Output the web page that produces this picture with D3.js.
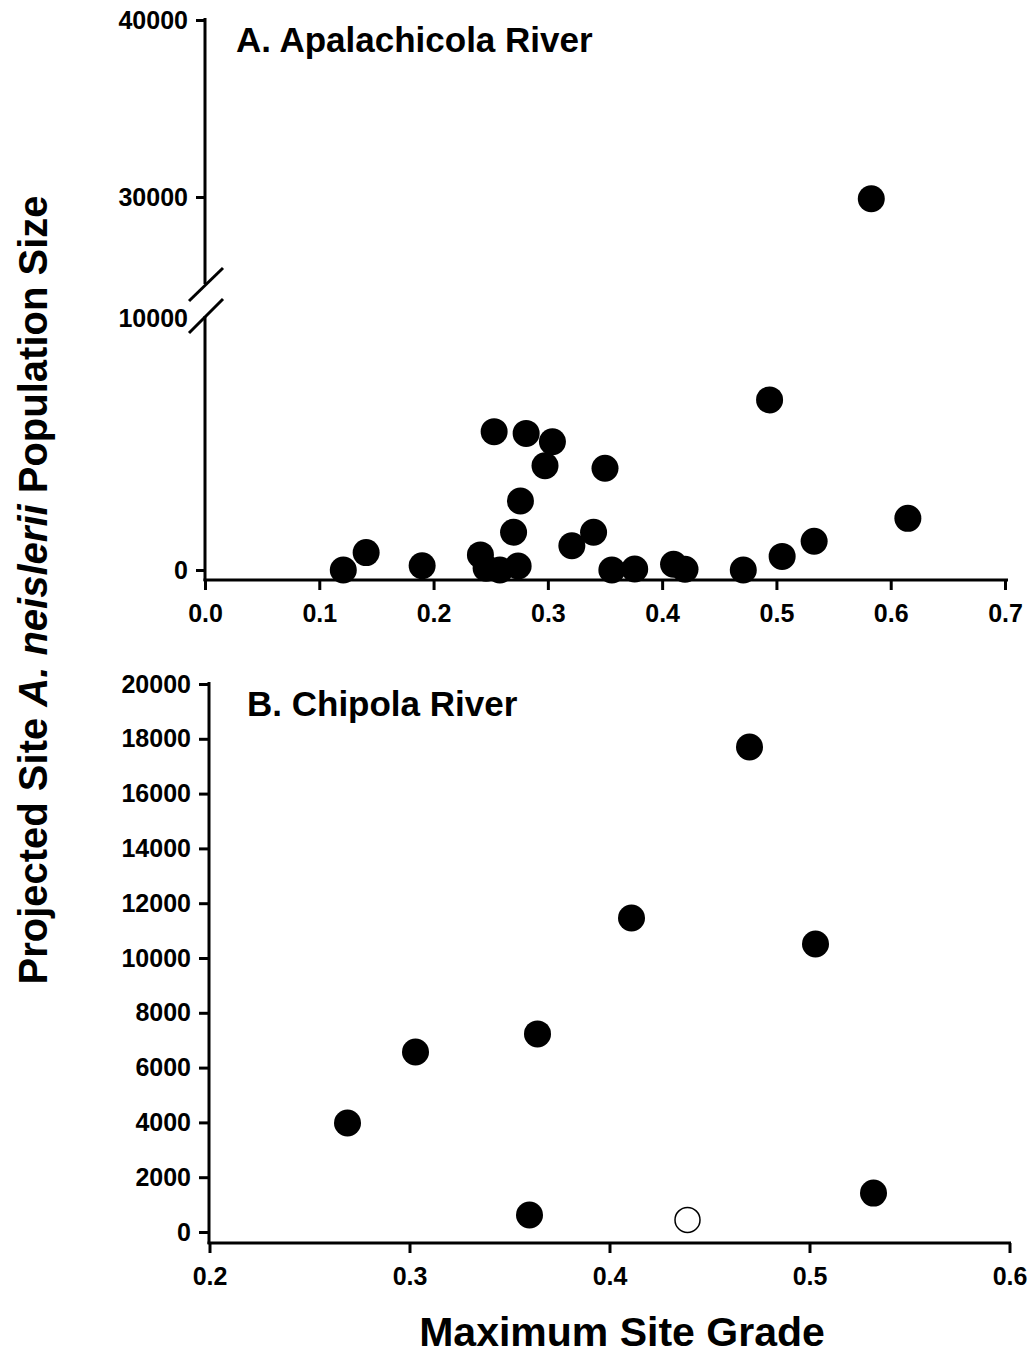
<!DOCTYPE html>
<html>
<head>
<meta charset="utf-8">
<script src="https://cdn.jsdelivr.net/npm/d3@7"></script>
<style>
  body { margin: 0; background: #fff; }
  svg text { font-family: Arial, "Liberation Sans", Helvetica, sans-serif; font-weight: bold; fill: #000; }
</style>
</head>
<body>
<script>
// panel A - Apalachicola River
var apalGrade = [0.121, 0.141, 0.190, 0.241, 0.246, 0.258, 0.274, 0.270, 0.276, 0.253, 0.281, 0.304, 0.2975,
                 0.350, 0.340, 0.321, 0.356, 0.376, 0.410, 0.420, 0.471, 0.505, 0.533, 0.494, 0.615, 0.583];
var apalPop = [0, 690, 170, 600, 70, 0, 160, 1500, 2740, 5490, 5420, 5090, 4140,
               4040, 1500, 960, 0, 40, 230, 30, 0, 540, 1140, 6750, 2050, 29900];

// panel B - Chipola River (last one is open symbol)
var chipGrade = [0.269, 0.303, 0.364, 0.411, 0.470, 0.503, 0.360, 0.532, 0.439];
var chipPop = [3980, 6570, 7230, 11460, 17700, 10510, 620, 1420, 440];
var chipOpen = [false, false, false, false, false, false, false, false, true];

var xTicksA = [0.0, 0.1, 0.2, 0.3, 0.4, 0.5, 0.6, 0.7];
var yTicksALow = [0, 10000];
var yTicksAHigh = [30000, 40000];
var xTicksB = [0.2, 0.3, 0.4, 0.5, 0.6];
var yTicksB = [0, 2000, 4000, 6000, 8000, 10000, 12000, 14000, 16000, 18000, 20000];

var W = 1029, H = 1358;
var r = 13.5;
var fontStack = 'Arial, "Liberation Sans", Helvetica, sans-serif';

var svg = d3.select("body").append("svg")
    .attr("width", W)
    .attr("height", H);

function styleAxis(g) {
    g.selectAll(".domain").remove();
    g.selectAll(".tick line").attr("stroke", "#000").attr("stroke-width", 3);
    g.attr("font-family", null).attr("font-size", null);
    g.selectAll(".tick text")
        .style("font-family", fontStack)
        .style("font-weight", "bold")
        .style("font-size", "25px")
        .attr("fill", "#000");
}

// ---------- panel A ----------
var xA = d3.scaleLinear().domain([0, 0.7]).range([205, 1005]);
var yLow = d3.scaleLinear().domain([0, 10000]).range([570, 318]);
var yHigh = d3.scaleLinear().domain([30000, 40000]).range([197, 20]);
function yA(v) { return v > 20000 ? yHigh(v) : yLow(v); }

var gA = svg.append("g");

// axis lines
gA.append("line").attr("x1", 205).attr("x2", 205).attr("y1", 18).attr("y2", 284)
    .attr("stroke", "#000").attr("stroke-width", 3);
gA.append("line").attr("x1", 205).attr("x2", 205).attr("y1", 316).attr("y2", 581)
    .attr("stroke", "#000").attr("stroke-width", 3);
gA.append("line").attr("x1", 203.5).attr("x2", 1008).attr("y1", 580).attr("y2", 580)
    .attr("stroke", "#000").attr("stroke-width", 3);

// break marks
[[189, 301, 223, 268], [189, 333, 223, 299]].forEach(function(s) {
    gA.append("line").attr("x1", s[0]).attr("y1", s[1]).attr("x2", s[2]).attr("y2", s[3])
        .attr("stroke", "#000").attr("stroke-width", 3);
});

var axXA = gA.append("g").attr("transform", "translate(0,580)")
    .call(d3.axisBottom(xA).tickValues(xTicksA).tickSize(10).tickPadding(14).tickFormat(d3.format(".1f")));
styleAxis(axXA);

var axYHigh = gA.append("g").attr("transform", "translate(205,0)")
    .call(d3.axisLeft(yHigh).tickValues(yTicksAHigh).tickSize(9).tickPadding(8).tickFormat(d3.format("d")));
styleAxis(axYHigh);

var axYLow = gA.append("g").attr("transform", "translate(205,0)")
    .call(d3.axisLeft(yLow).tickValues(yTicksALow).tickSize(9).tickPadding(8).tickFormat(d3.format("d")));
styleAxis(axYLow);
// tick mark at 10000 is hidden behind the break
axYLow.selectAll(".tick").filter(function(d) { return d === 10000; }).select("line").remove();

gA.selectAll("circle.pa")
    .data(apalGrade)
    .enter().append("circle")
    .attr("class", "pa")
    .attr("cx", function(d) { return xA(d); })
    .attr("cy", function(d, i) { return yA(apalPop[i]); })
    .attr("r", r)
    .attr("fill", "#000");

gA.append("text").attr("x", 236).attr("y", 52)
    .style("font-size", "35px")
    .text("A. Apalachicola River");

// ---------- panel B ----------
var xB = d3.scaleLinear().domain([0.2, 0.6]).range([209.5, 1009.5]);
var yB = d3.scaleLinear().domain([0, 20000]).range([1232, 684]);

var gB = svg.append("g");

gB.append("line").attr("x1", 209).attr("x2", 209).attr("y1", 682).attr("y2", 1244)
    .attr("stroke", "#000").attr("stroke-width", 3);
gB.append("line").attr("x1", 207.5).attr("x2", 1011).attr("y1", 1243).attr("y2", 1243)
    .attr("stroke", "#000").attr("stroke-width", 3);

var axXB = gB.append("g").attr("transform", "translate(0,1243)")
    .call(d3.axisBottom(xB).tickValues(xTicksB).tickSize(10).tickPadding(14).tickFormat(d3.format(".1f")));
styleAxis(axXB);

var axYB = gB.append("g").attr("transform", "translate(209,0)")
    .call(d3.axisLeft(yB).tickValues(yTicksB).tickSize(10).tickPadding(8).tickFormat(d3.format("d")));
styleAxis(axYB);

gB.selectAll("circle.pb")
    .data(chipGrade)
    .enter().append("circle")
    .attr("class", "pb")
    .attr("cx", function(d) { return xB(d); })
    .attr("cy", function(d, i) { return yB(chipPop[i]); })
    .attr("r", function(d, i) { return chipOpen[i] ? r - 1 : r; })
    .attr("fill", function(d, i) { return chipOpen[i] ? "#fff" : "#000"; })
    .attr("stroke", "#000")
    .attr("stroke-width", function(d, i) { return chipOpen[i] ? 1.5 : 0; });

gB.append("text").attr("x", 247).attr("y", 716)
    .style("font-size", "35px")
    .text("B. Chipola River");

// ---------- axis titles ----------
svg.append("text")
    .attr("x", 622).attr("y", 1346)
    .attr("text-anchor", "middle")
    .style("font-size", "41px")
    .text("Maximum Site Grade");

var yl = svg.append("text")
    .attr("transform", "translate(47,590) rotate(-90)")
    .attr("text-anchor", "middle")
    .style("font-size", "40px");
yl.append("tspan").text("Projected Site ");
yl.append("tspan").style("font-style", "italic").text("A. neislerii");
yl.append("tspan").text(" Population Size");
</script>
</body>
</html>
